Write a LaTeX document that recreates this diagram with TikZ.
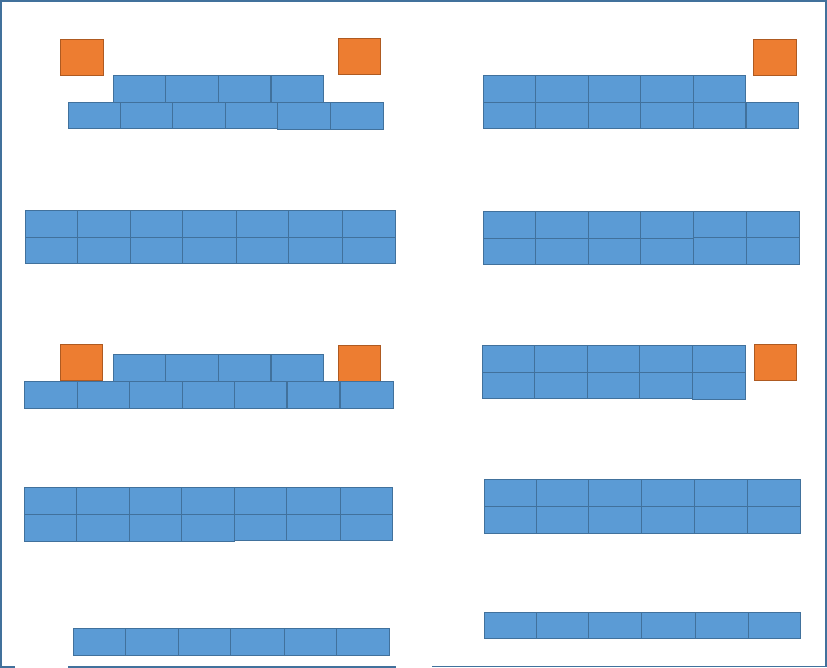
\documentclass[tikz,border=0pt]{standalone}
\definecolor{bfill}{HTML}{5B9BD5}
\definecolor{bline}{HTML}{41719C}
\definecolor{ofill}{HTML}{ED7D31}
\definecolor{oline}{HTML}{AE5A21}
\definecolor{frame}{HTML}{41719C}
\tikzset{
  bb/.style={fill=bfill,draw=bline,line width=0.9pt},
  ob/.style={fill=ofill,draw=oline,line width=0.9pt},
  frm/.style={draw=frame,line width=1.3pt}
}
\newcommand{\brow}[3]{% y1, y2, list of x
  \foreach \xa/\xb in {#3} {\path[bb] (\xa,#1) rectangle (\xb,#2);}}
\begin{document}
\begin{tikzpicture}[x=1pt,y=-1pt]
\useasboundingbox (0,0) rectangle (827,668);
% frame
\draw[frm] (15,667) -- (1,667) -- (1,1) -- (826,1) -- (826,666.5) -- (432,666.5);
\draw[frm] (68,667) -- (396,667);

% ---------- left column ----------
% group 1
\path[ob] (60.3,39.3) rectangle (103.3,75.3);
\path[ob] (338.3,38.3) rectangle (380.3,74.3);
\brow{75.3}{102.3}{113.3/165.3,165.3/218.3,218.3/270.3,271.3/323.3}
\brow{102.3}{128.3}{68.3/120.3,120.3/172.3,172.3/225.3,225.3/277.3}
\brow{102.3}{129.3}{277.3/330.3,330.3/383.3}
% group 2
\brow{210}{237.3}{25.3/77.3,77.3/130.3,130.3/182.7,182.7/236,236/288.7,288.7/342,342/395.3}
\brow{237.3}{263.3}{25.3/77.3,77.3/130.3,130.3/182.7,182.7/236,236/288.7,288.7/342,342/395.3}
% group 3
\path[ob] (60.3,344.3) rectangle (102.3,380.7);
\path[ob] (338.3,345.3) rectangle (380.3,381.3);
\brow{354.3}{381.3}{113.3/165.3,165.3/218.3,218.3/270.3,271.3/323.3}
\brow{381.3}{408.3}{24.3/77.3,77.3/129.3,129.3/182.3,182.3/234.3,234.3/286.3,287.3/339.3,340.3/393.3}
% group 4
\brow{487.3}{514.3}{24.3/76.3,76.3/129.3,129.3/181.7,181.7/234.3,234.3/286.7,286.7/340,340/392.3}
\brow{514.3}{541.3}{24.3/76.3,76.3/129.3,129.3/181.7,181.7/234.3}
\brow{514.3}{540.3}{234.3/286.7,286.7/340,340/392.3}
% group 5
\brow{628.3}{655.3}{73.3/125.3,125.3/178.3,178.3/230.7,230.7/284,284/336.3,336.3/389.3}

% ---------- right column ----------
% group 1
\path[ob] (753.3,39.3) rectangle (796.3,75.3);
\brow{75.3}{102.3}{483.3/535.3,535.3/588.3,588.3/640.3,640.3/693.3,693.3/745.3}
\brow{102.3}{128.3}{483.3/535.3,535.3/588.3,588.3/640.3,640.3/693.3,693.3/745.3,746.3/798.3}
% group 2
\brow{211.3}{238.3}{483.3/535.3,535.3/588.3,588.3/640.3,640.3/693.3}
\brow{238.3}{264.3}{483.3/535.3,535.3/588.3,588.3/640.3,640.3/693.3}
\brow{211.3}{237.3}{693.3/746.3,746.3/799.3}
\brow{237.3}{264.3}{693.3/746.3,746.3/799.3}
% group 3
\path[ob] (754.3,344.3) rectangle (796.3,380.3);
\brow{345.3}{372.3}{482.3/534.3,534.3/587.3,587.3/639.7,639.7/692.3,692.3/745.3}
\brow{372.3}{398.3}{482.3/534.3,534.3/587.3,587.3/639.7,639.7/692.3}
\brow{372.3}{399.3}{692.3/745.3}
% group 4
\brow{479.3}{506.3}{484.3/536.3,536.3/588.3,588.3/641.3,641.3/694.3,694.3/747.3,747.3/800.3}
\brow{506.3}{533.3}{484.3/536.3,536.3/588.3,588.3/641.3,641.3/694.3,694.3/747.3,747.3/800.3}
% group 5
\brow{612.3}{638.3}{484.3/536.3,536.3/588.3,588.3/641.3,641.3/695,695/748.3,748.3/800.3}
\end{tikzpicture}
\end{document}
